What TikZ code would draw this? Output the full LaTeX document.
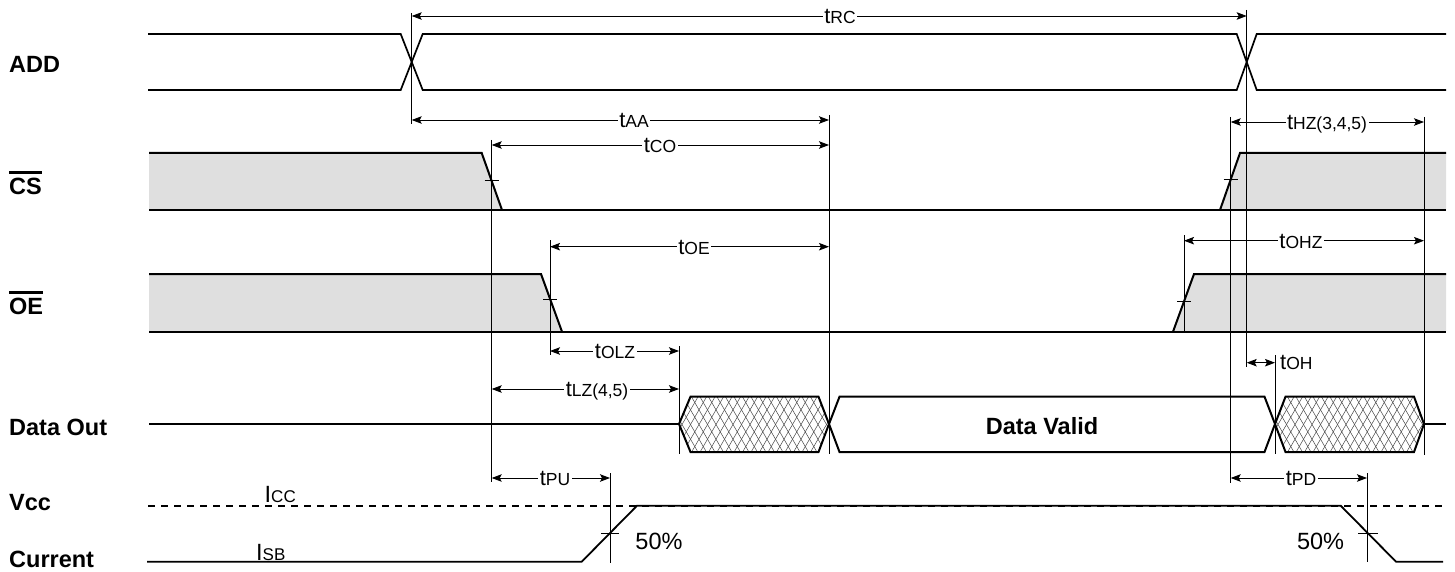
\documentclass[tikz,border=0pt]{standalone}
\usepackage{fontspec}
\setmainfont{Liberation Sans}
\usetikzlibrary{arrows.meta}
\newcommand{\mytsub}[1]{{\fontsize{22}{22}\selectfont t}{\fontsize{17.5}{18}\selectfont #1}}
\newcommand{\myovl}[1]{\vbox{\hrule height 2.6pt\kern 4pt\hbox{#1}}}
\tikzset{
  sigA/.style={line width=1.7pt},
  sig/.style={line width=2pt},
  shadefill/.style={fill=gray!25},
  refline/.style={line width=0.9pt},
  tick/.style={line width=0.9pt},
  dim/.style={line width=0.9pt,{Stealth[length=10pt,width=7.5pt,inset=2pt]}-{Stealth[length=10pt,width=7.5pt,inset=2pt]}},
  tlabel/.style={anchor=base,fill=white,inner xsep=1.5pt,inner ysep=1pt},
  siglab/.style={anchor=base west,inner sep=0pt,font=\fontsize{23.5}{24}\selectfont\bfseries},
  plainlab/.style={anchor=base,inner sep=0pt,font=\fontsize{23.5}{24}\selectfont},
  hatchline/.style={line width=0.5pt,draw=black!72},
}
\begin{document}
\begin{tikzpicture}[x=1pt,y=-1pt]
\useasboundingbox (0,0) rectangle (1455,572);

% ---------- signal names ----------
\node[siglab] (lADD) at (9,72.3) {ADD};
\node[siglab] (lCS) at (9,194) {\myovl{CS}};
\node[siglab] (lOE) at (9,314.3) {\myovl{OE}};
\node[siglab] (lDO) at (9,435.7) {Data Out};
\node[siglab] (lVcc) at (9,510) {Vcc};
\node[siglab] (lCur) at (9,567.7) {Current};

% ---------- ADD ----------
\draw[sigA] (148,34) -- (400.7,34) -- (422.7,90) -- (1236.7,90) -- (1256.7,34) -- (1446,34);
\draw[sigA] (148,90) -- (400.7,90) -- (422.7,34) -- (1236.7,34) -- (1256.7,90) -- (1446,90);

% ---------- CS ----------
\fill[shadefill] (149,153) -- (481.7,153) -- (502,210) -- (149,210) -- cycle;
\fill[shadefill] (1220,210) -- (1240,153) -- (1446,153) -- (1446,210) -- cycle;
\draw[sig] (149,153) -- (481.7,153) -- (502,210);
\draw[sig] (149,210) -- (1446,210);
\draw[sig] (1220,210) -- (1240,153) -- (1446,153);

% ---------- OE ----------
\fill[shadefill] (149,274) -- (541,274) -- (562,331.7) -- (149,331.7) -- cycle;
\fill[shadefill] (1173,331.7) -- (1194,274) -- (1446,274) -- (1446,331.7) -- cycle;
\draw[sig] (149,274) -- (541,274) -- (562,331.7);
\draw[sig] (149,331.7) -- (1446,331.7);
\draw[sig] (1173,331.7) -- (1194,274) -- (1446,274);

% ---------- Data Out ----------
\draw[sig] (149,424) -- (679,424);
\begin{scope}
  \clip (679,424) -- (690.5,396.7) -- (818.5,396.7) -- (829,424) -- (818.5,452) -- (690.5,452) -- cycle;
  \foreach \x in {640,648.5,...,834} {
    \draw[hatchline] (\x,396) -- (\x+33,453);
    \draw[hatchline] (\x+33,396) -- (\x,453);
  }
\end{scope}
\begin{scope}
  \clip (1275,424) -- (1285.5,396.7) -- (1414,396.7) -- (1424,424) -- (1414,452) -- (1285.5,452) -- cycle;
  \foreach \x in {1236,1244.5,...,1430} {
    \draw[hatchline] (\x,396) -- (\x+33,453);
    \draw[hatchline] (\x+33,396) -- (\x,453);
  }
\end{scope}
\draw[sig] (679,424) -- (690.5,396.7) -- (818.5,396.7) -- (829,424) -- (818.5,452) -- (690.5,452) -- cycle;
\draw[sig] (829,424) -- (839.5,396.7) -- (1264.5,396.7) -- (1275,424) -- (1264.5,452) -- (839.5,452) -- cycle;
\draw[sig] (1275,424) -- (1285.5,396.7) -- (1414,396.7) -- (1424,424) -- (1414,452) -- (1285.5,452) -- cycle;
\draw[sig] (1424,424) -- (1446,424);
\node[anchor=base,inner sep=0pt,font=\fontsize{23.5}{24}\selectfont\bfseries] (valid) at (1042,434) {Data Valid};

% ---------- Vcc / Current ----------
\draw[line width=1.6pt,dash pattern=on 7pt off 6pt] (148,505.7) -- (1446,505.7);
\draw[line width=1.8pt] (147,561.7) -- (581.7,561.7) -- (637,505.7) -- (1340.7,505.7) -- (1396,561.7) -- (1443,561.7);
\node[anchor=base west,inner sep=0pt] (icc) at (264.5,502) {{\fontsize{23.5}{24}\selectfont I}{\fontsize{17}{17}\selectfont CC}};
\node[anchor=base west,inner sep=0pt] (isb) at (256,560.7) {{\fontsize{23.5}{24}\selectfont I}{\fontsize{17}{17}\selectfont SB}};
\node[plainlab] (p50a) at (659,549.3) {50\%};
\node[plainlab] (p50b) at (1320.5,549.3) {50\%};

% ---------- ticks ----------
\draw[tick] (484.7,180.5) -- (498.7,180.5);
\draw[tick] (1223.7,179.5) -- (1237.7,179.5);
\draw[tick] (543,299) -- (557,299);
\draw[tick] (1177,301) -- (1191,301);
\draw[tick] (601,533) -- (619,533);
\draw[tick] (1358,533) -- (1378,533);

% ---------- reference lines ----------
\draw[refline] (411.7,13) -- (411.7,124);
\draw[refline] (1246.7,10) -- (1246.7,367);
\draw[refline] (829,115) -- (829,454);
\draw[refline] (491.7,140) -- (491.7,482);
\draw[refline] (1230.7,117) -- (1230.7,483);
\draw[refline] (1424,117) -- (1424,455);
\draw[refline] (550,240) -- (550,355);
\draw[refline] (679,346) -- (679,454);
\draw[refline] (1184,235) -- (1184,332);
\draw[refline] (1275,355) -- (1275,454);
\draw[refline] (610,473) -- (610,563);
\draw[refline] (1367,473) -- (1367,562);

% ---------- dimension arrows ----------
\coordinate (rcL) at (411.7,16);   \coordinate (rcR) at (1246.7,16);
\coordinate (aaL) at (411.7,120);  \coordinate (aaR) at (829,120);
\coordinate (coL) at (491.7,145);  \coordinate (coR) at (829,145);
\coordinate (hzL) at (1230.7,122); \coordinate (hzR) at (1424,122);
\coordinate (oeL) at (550,246.7);  \coordinate (oeR) at (829,246.7);
\coordinate (ohzL) at (1184,240.7); \coordinate (ohzR) at (1424,240.7);
\coordinate (olzL) at (550,351);   \coordinate (olzR) at (679,351);
\coordinate (lzL) at (491.7,389);  \coordinate (lzR) at (679,389);
\coordinate (ohL) at (1246.7,362.7); \coordinate (ohR) at (1275,362.7);
\coordinate (puL) at (491.7,478);  \coordinate (puR) at (610,478);
\coordinate (pdL) at (1230.7,478); \coordinate (pdR) at (1367,478);

\draw[dim] (rcL) -- (rcR);
\draw[dim] (aaL) -- (aaR);
\draw[dim] (coL) -- (coR);
\draw[dim] (hzL) -- (hzR);
\draw[dim] (oeL) -- (oeR);
\draw[dim] (ohzL) -- (ohzR);
\draw[dim] (olzL) -- (olzR);
\draw[dim] (lzL) -- (lzR);
\draw[dim] (ohL) -- (ohR);
\draw[dim] (puL) -- (puR);
\draw[dim] (pdL) -- (pdR);

\node[tlabel] (trc) at (840,23.5) {\mytsub{RC}};
\node[tlabel] (taa) at (634,127.5) {\mytsub{AA}};
\node[tlabel] (tco) at (660,152.5) {\mytsub{CO}};
\node[tlabel] (thz) at (1327,129.5) {\mytsub{HZ(3,4,5)}};
\node[tlabel] (toe) at (694,254.2) {\mytsub{OE}};
\node[tlabel] (tohz) at (1301,248.2) {\mytsub{OHZ}};
\node[tlabel] (tolz) at (615,358.5) {\mytsub{OLZ}};
\node[tlabel] (tlz) at (597,396.5) {\mytsub{LZ(4,5)}};
\node[anchor=base west,inner sep=0pt] (toh) at (1280,369.5) {\mytsub{OH}};
\node[tlabel] (tpu) at (555,485) {\mytsub{PU}};
\node[tlabel] (tpd) at (1301,485) {\mytsub{PD}};
\end{tikzpicture}
\end{document}
